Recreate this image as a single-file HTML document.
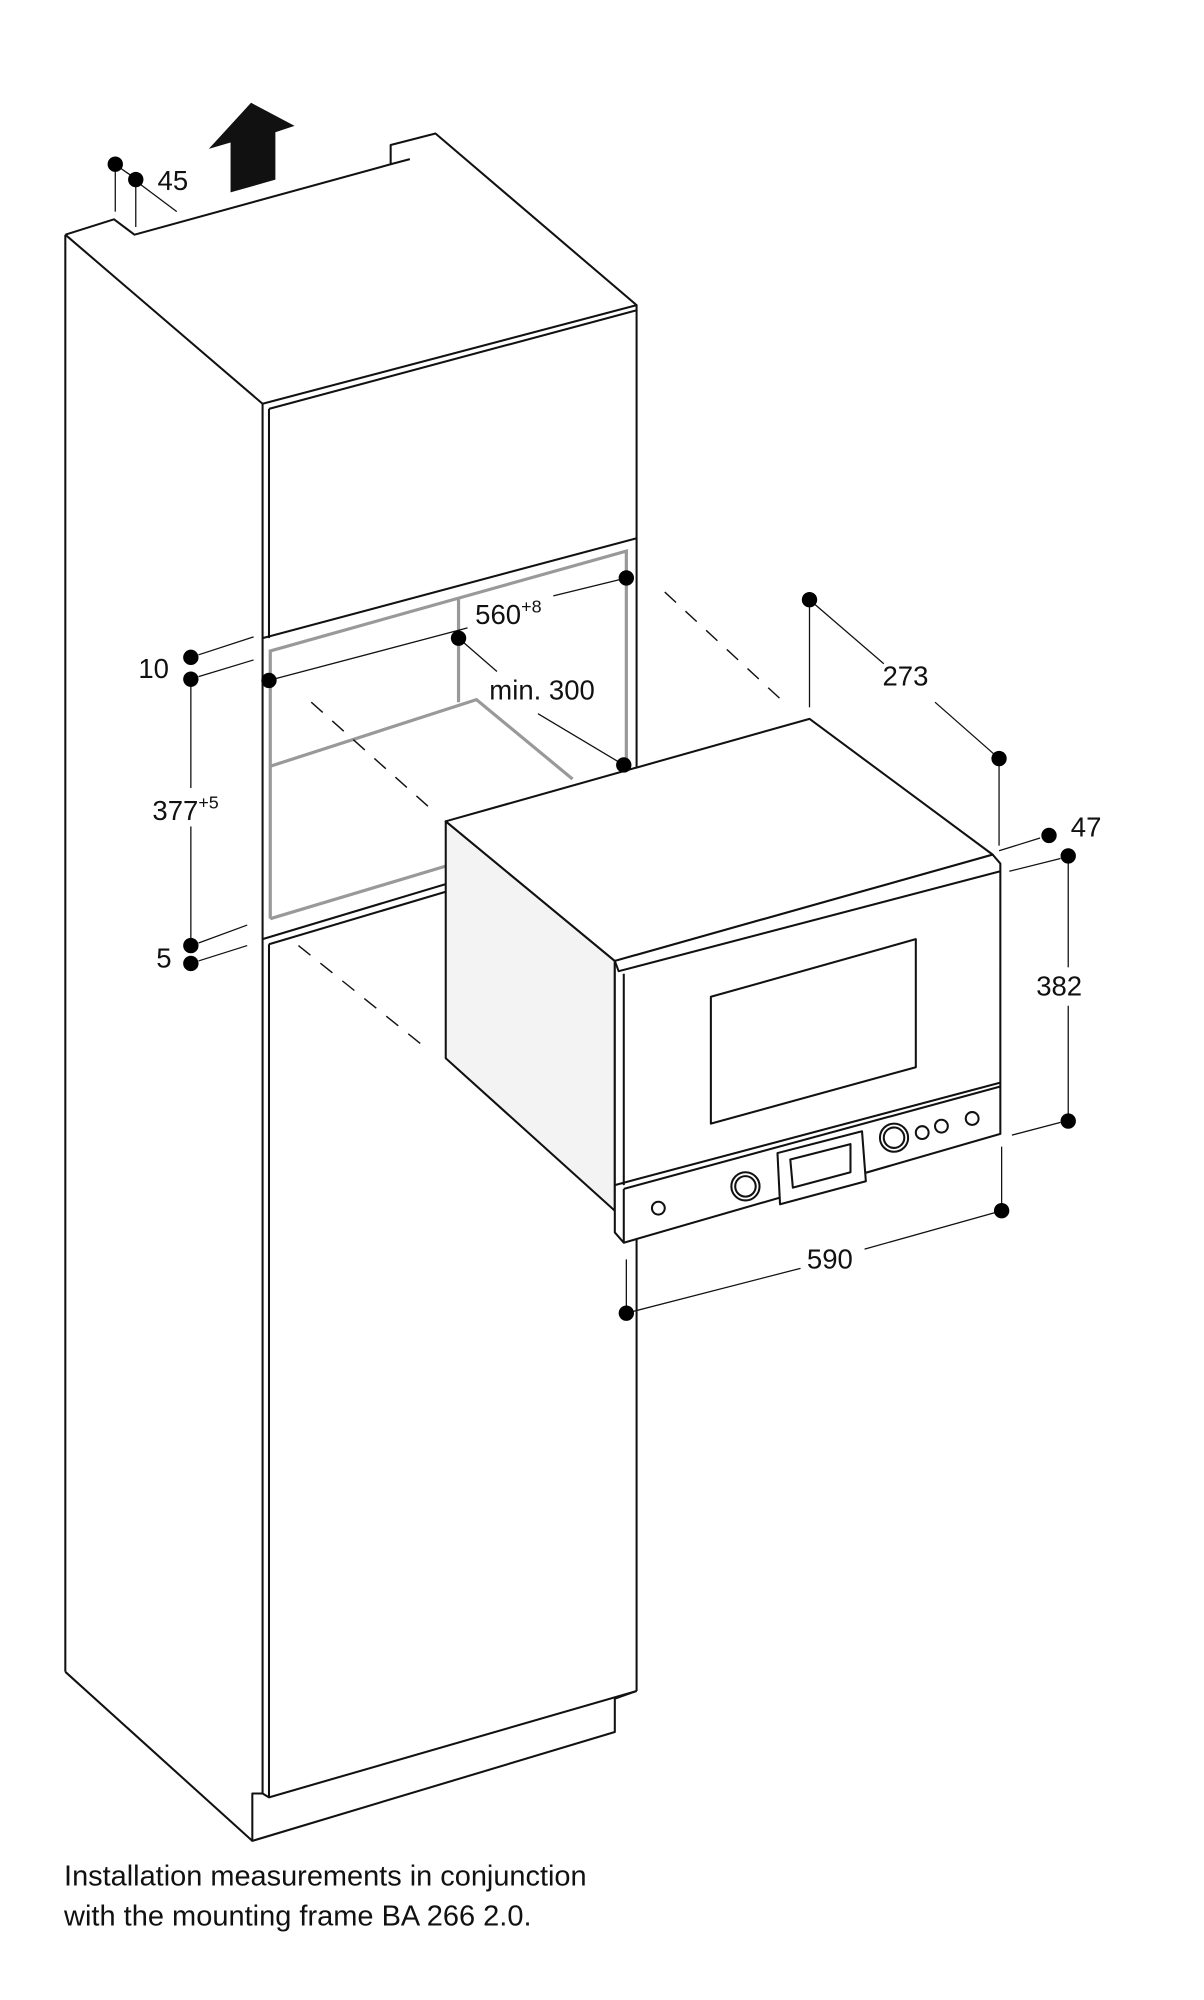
<!DOCTYPE html>
<html><head><meta charset="utf-8"><style>html,body{margin:0;padding:0;background:#fff}svg{display:block}text{font-family:"Liberation Sans",sans-serif;fill:#111}</style></head>
<body>
<svg width="1204" height="2000" viewBox="0 0 940 1561" xmlns="http://www.w3.org/2000/svg">
<g fill="none" stroke="#111" stroke-width="1.6" stroke-linejoin="round">
<polyline points="51,183 89,171 105,183 305,128 305,113 340,104 497,238"/>
<polyline points="305,128 320,124"/>
<line x1="51" y1="183" x2="205" y2="315"/>
<line x1="51" y1="183" x2="51" y2="1305"/>
<line x1="51" y1="1305" x2="197" y2="1437"/>
<polygon points="205,315 497,238 497,420 205,498" fill="#fff"/>
<line x1="210" y1="319" x2="497" y2="242"/>
<line x1="210" y1="319" x2="210" y2="498"/>
<line x1="497" y1="420" x2="497" y2="1320"/>
<line x1="205" y1="498" x2="205" y2="1400"/>
<line x1="205" y1="733" x2="348" y2="690"/>
<line x1="210" y1="737" x2="348" y2="696"/>
<line x1="210" y1="737" x2="210" y2="1403"/>
<polyline points="205,1400 210,1403 497,1320"/>
<polyline points="497,1320 480,1326 480,1352 197,1437 197,1400 205,1400"/>
</g>
<g fill="none" stroke="#999" stroke-width="2.5">
<polyline points="211,717 211,508 489,430 489,600"/>
<polyline points="358,467 358,548"/>
<polyline points="211,598 372,546 447,608"/>
<line x1="211" y1="717" x2="348" y2="676"/>
</g>
<polygon points="180,150 215,140 215,103 230,98 196,80 163,116 180,111" fill="#111"/>
<g stroke="#111" stroke-width="1.1" stroke-dasharray="12,10" fill="none">
<line x1="519" y1="462" x2="612" y2="548"/>
<line x1="243" y1="548" x2="335" y2="630"/>
<line x1="233" y1="738" x2="335" y2="820"/>
</g>
<g stroke="#111" stroke-width="1.6" stroke-linejoin="round">
<polygon points="348,641 480,750 480,945 348,826" fill="#f3f3f3"/>
<polygon points="348,641 632,561 775,667 480,750" fill="#fff"/>
<polygon points="480,750 775,667 781,674 781,885 487,970 480,962" fill="#fff"/>
<polyline points="480,750 483,758 781,680" fill="none"/>
<line x1="487" y1="760" x2="487" y2="925"/>
<polygon points="555,778 715,733 715,833 555,877" fill="#fff"/>
<polyline points="480,925 781,845" fill="none"/>
<polyline points="487,928 781,848" fill="none"/>
<line x1="487" y1="928" x2="487" y2="970"/>
<polygon points="607,900 673,883 676,922 609,940" fill="#fff"/>
<polygon points="617,905 664,893 664,915 619,927" fill="#fff"/>
<circle cx="582" cy="926" r="11" fill="#fff"/><circle cx="582" cy="926" r="8" fill="none"/>
<circle cx="698" cy="888" r="11" fill="#fff"/><circle cx="698" cy="888" r="8" fill="none"/>
<circle cx="720" cy="884" r="5" fill="#fff"/><circle cx="735" cy="879" r="5" fill="#fff"/>
<circle cx="759" cy="873" r="5" fill="#fff"/><circle cx="514" cy="943" r="5" fill="#fff"/>
</g>
<g stroke="#111" stroke-width="1" fill="none">
<line x1="90" y1="128" x2="90" y2="165"/><line x1="106" y1="140" x2="106" y2="177"/>
<line x1="110" y1="144" x2="138" y2="165"/><line x1="94" y1="131" x2="104" y2="138"/>
<line x1="155" y1="511" x2="198" y2="497"/><line x1="155" y1="528" x2="198" y2="515"/>
<line x1="149" y1="530" x2="149" y2="615"/><line x1="149" y1="645" x2="149" y2="738"/>
<line x1="155" y1="736" x2="193" y2="722"/><line x1="155" y1="750" x2="193" y2="738"/>
<line x1="210" y1="531" x2="365" y2="490"/><line x1="432" y1="465" x2="489" y2="451"/>
<line x1="358" y1="498" x2="388" y2="524"/><line x1="420" y1="557" x2="487" y2="597"/>
<line x1="632" y1="468" x2="632" y2="552"/><line x1="632" y1="468" x2="690" y2="518"/>
<line x1="730" y1="548" x2="780" y2="592"/><line x1="780" y1="592" x2="780" y2="660"/>
<line x1="780" y1="664" x2="812" y2="654"/><line x1="788" y1="680" x2="828" y2="670"/>
<line x1="834" y1="668" x2="834" y2="755"/><line x1="834" y1="785" x2="834" y2="875"/>
<line x1="790" y1="886" x2="828" y2="876"/>
<line x1="782" y1="895" x2="782" y2="940"/><line x1="489" y1="983" x2="489" y2="1025"/>
<line x1="489" y1="1025" x2="625" y2="990"/><line x1="675" y1="975" x2="782" y2="945"/>
</g>
<g fill="#000">
<circle cx="90" cy="128" r="6"/><circle cx="106" cy="140" r="6"/>
<circle cx="149" cy="513" r="6"/><circle cx="149" cy="530" r="6"/>
<circle cx="149" cy="738" r="6"/><circle cx="149" cy="752" r="6"/>
<circle cx="210" cy="531" r="6"/><circle cx="489" cy="451" r="6"/>
<circle cx="358" cy="498" r="6"/><circle cx="487" cy="597" r="6"/>
<circle cx="632" cy="468" r="6"/><circle cx="780" cy="592" r="6"/>
<circle cx="819" cy="652" r="6"/><circle cx="834" cy="668" r="6"/>
<circle cx="834" cy="875" r="6"/><circle cx="782" cy="945" r="6"/>
<circle cx="489" cy="1025" r="6"/>
</g>
<g font-size="21.5">
<text x="123" y="148">45</text>
<text x="108" y="529">10</text>
<text x="119" y="640">377<tspan font-size="14" dy="-9">+5</tspan></text>
<text x="122" y="755">5</text>
<text x="371" y="487">560<tspan font-size="14" dy="-9">+8</tspan></text>
<text x="382" y="546">min. 300</text>
<text x="689" y="535">273</text>
<text x="836" y="653">47</text>
<text x="809" y="777">382</text>
<text x="630" y="990">590</text>
</g>
<g font-size="22.5">
<text x="50" y="1472" textLength="408" lengthAdjust="spacingAndGlyphs">Installation measurements in conjunction</text>
<text x="50" y="1503" textLength="365" lengthAdjust="spacingAndGlyphs">with the mounting frame BA 266 2.0.</text>
</g>
</svg>
</body></html>
